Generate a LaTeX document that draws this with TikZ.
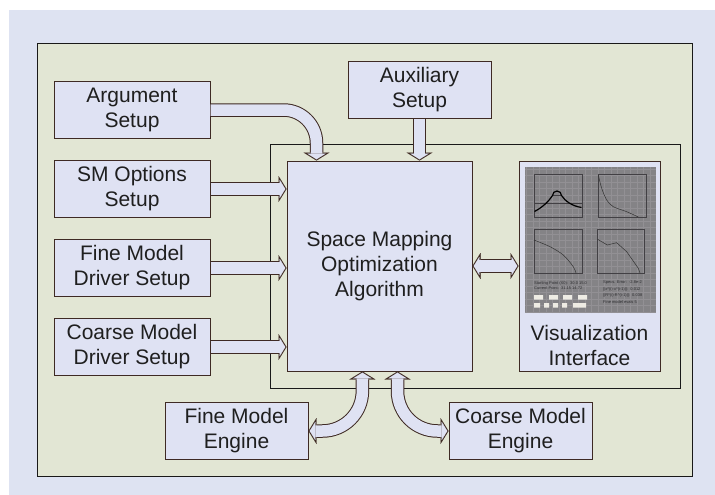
\documentclass[tikz,border=0pt]{standalone}
\usepackage{fontspec}
\setmainfont{Liberation Sans}
\usetikzlibrary{arrows.meta, positioning, fit, backgrounds}

\definecolor{pagebg}{RGB}{222,227,242}
\definecolor{panelbg}{RGB}{226,230,212}
\definecolor{boxfill}{RGB}{223,226,243}
\definecolor{rimcol}{RGB}{62,42,36}
\definecolor{framecol}{RGB}{25,25,25}
\definecolor{shotgray}{RGB}{132,131,134}
\definecolor{shotgrid}{RGB}{146,144,148}
\definecolor{shotline}{RGB}{66,64,68}
\definecolor{shottext}{RGB}{45,45,48}
\definecolor{shotbtn}{RGB}{238,236,228}

\newcommand{\boxfont}{\fontsize{21}{25}\selectfont}
\newcommand{\shotfont}{\fontsize{4}{5}\selectfont}

\begin{document}
\begin{tikzpicture}[
    x=1pt, y=1pt,
    node distance=21pt and 46pt,
    box/.style={rectangle, draw=rimcol, fill=boxfill, line width=1pt, inner sep=3pt, minimum height=57pt, align=center, font=\boxfont, text=black!88},
    setupbox/.style={box, minimum width=156pt},
    enginebox/.style={box, minimum width=143pt},
    frame/.style={draw=framecol, line width=1pt},
    fatout/.tip={Triangle[length=8pt, width=26pt, line width=0.01pt]},
    fatin/.tip={Triangle[length=5.6pt, width=18pt, line width=0.01pt]},
    fatarrow/.style={draw=boxfill, line width=11.5pt, -fatin, shorten >=1.2pt,
        preaction={draw=rimcol, line width=13.5pt, -fatout, shorten >=0pt}},
    fatboth/.style={draw=boxfill, line width=11.5pt, fatin-fatin, shorten >=1.2pt, shorten <=1.2pt,
        preaction={draw=rimcol, line width=13.5pt, fatout-fatout, shorten >=0pt, shorten <=0pt}},
    shotlabel/.style={anchor=west, inner sep=0pt, font=\shotfont, text=shottext},
]
\useasboundingbox (0,0) rectangle (715,-495);

% Setup boxes on the left
\node[setupbox] (argsetup) at (132,-110) {Argument\\Setup};
\node[setupbox, below=of argsetup] (smopt) {SM Options\\Setup};
\node[setupbox, below=of smopt] (finedrv) {Fine Model\\Driver Setup};
\node[setupbox, below=of finedrv] (coarsedrv) {Coarse Model\\Driver Setup};

% Algorithm and visualization
\node[box, minimum width=185pt, minimum height=210pt] (smalg) at (379.5,-266) {Space Mapping\\Optimization\\Algorithm};
\node[box, minimum width=141pt, minimum height=210pt, right=of smalg] (visint) {};
\node[font=\boxfont, text=black!88, align=center, above=2pt of visint.south] (vislabel) {Visualization\\Interface};
\coordinate (visright) at ([xshift=3pt]visint.east);

% Auxiliary setup and engines
\node[enginebox] (auxsetup) at (419.5,-90) {Auxiliary\\Setup};
\node[enginebox] (fineeng) at (236.5,-431) {Fine Model\\Engine};
\node[enginebox] (coarseeng) at (520.5,-431) {Coarse Model\\Engine};

% Screenshot inside the visualization interface
\fill[shotgray] (525,-167) rectangle (656,-313);
\draw[shotgrid, line width=0.25pt, step=6.5pt] (525,-313) grid (656,-167);
\draw[shotline, line width=0.6pt] (534,-174) rectangle (582,-217)
    (598,-174) rectangle (646,-217)
    (534,-229) rectangle (582,-273)
    (597,-229) rectangle (644,-273);
\draw[shotline, line width=0.4pt] (534,-203) -- (582,-203) (552,-195) -- (562,-195);
\draw[black, line width=1.2pt] (534.5,-211.5) .. controls (543,-207) and (549,-201) .. (552.5,-195.5)
    arc[start angle=180, end angle=0, radius=4.5]
    .. controls (565,-201) and (572,-206) .. (581.5,-207.5);
\draw[black!80, line width=0.5pt] plot[smooth] coordinates {(598.3,-175) (601.7,-188.3) (606.7,-200) (613.3,-206.7) (626.7,-211.7) (638.3,-217)};
\draw[black!80, line width=0.5pt] plot[smooth] coordinates {(534,-240) (550,-246.7) (563.3,-255) (573.3,-266.7) (576,-273)};
\draw[black!80, line width=0.5pt] (597.7,-239.3) -- (607.3,-245) -- (616.7,-242.7) -- (626.7,-251.7) -- (638.3,-268.3) -- (640,-273);
\node[shotlabel] (startpt) at (534,-283) {Starting Point (X0):\ \ 30.0 15.0};
\node[shotlabel] (currpt) at (534,-288.5) {Current Point:\ \ 31.15 14.72};
\node[shotlabel] (specerr) at (603,-283) {Specs. Error:\ \ -2.8e-2};
\node[shotlabel] (xdiff) at (603,-289.5) {||x\textasciicircum(i)-x\textasciicircum(i-1)||:\ \ 0.012};
\node[shotlabel] (rdiff) at (603,-295.5) {||R\textasciicircum(i)-R\textasciicircum(i-1)||:\ \ 0.038};
\node[shotlabel] (fevals) at (603,-302) {Fine model evals 5};
\fill[shotbtn] (534,-295) rectangle (543,-299.5) (549,-295) rectangle (558,-299.5)
    (563,-295) rectangle (572,-299.5) (578,-295) rectangle (587,-299.5)
    (534,-303) rectangle (540,-307.5) (544,-303) rectangle (549,-307.5)
    (553,-303) rectangle (558,-307.5) (562,-303) rectangle (567,-307.5)
    (573,-303) rectangle (586,-307.5);

% Fat arrows into the algorithm
\draw[fatarrow] (argsetup.east) -- ++(73,0) arc[start angle=90, end angle=0, radius=33]
    coordinate (argbend) -- (argbend |- smalg.north);
\draw[fatarrow] (smopt.east) -- (smopt.east -| smalg.west);
\draw[fatarrow] (finedrv.east) -- (finedrv.east -| smalg.west);
\draw[fatarrow] (coarsedrv.east) -- (coarsedrv.east -| smalg.west);
\draw[fatarrow] (auxsetup.south) -- (auxsetup.south |- smalg.north);
\draw[fatboth] (smalg.east) -- (visint.west);
\draw[fatboth] (fineeng.east) -- ++(13.9,0) arc[start angle=270, end angle=360, radius=40]
    coordinate (finebend) -- (finebend |- smalg.south);
\draw[fatboth] (coarseeng.west) -- ++(-11,0) arc[start angle=270, end angle=180, radius=40]
    coordinate (coarsebend) -- (coarsebend |- smalg.south);

% Panels behind everything
\begin{scope}[on background layer]
    \fill[white] (0,0) rectangle (715,-495);
    \fill[pagebg] (9,-10) rectangle (715,-495);
    \draw[frame, fill=panelbg] (37,-44) rectangle (692,-476);
    \node[frame, fit=(smalg)(visint)(visright), inner sep=16.5pt] (innerframe) {};
\end{scope}

\end{tikzpicture}
\end{document}
